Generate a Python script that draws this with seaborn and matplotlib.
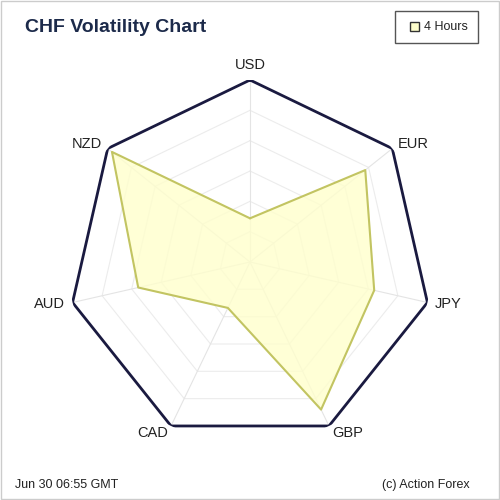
import numpy as np
import matplotlib
matplotlib.use("Agg")
import matplotlib.pyplot as plt
import seaborn as sns
from matplotlib.patches import Rectangle

categories = ["USD", "EUR", "JPY", "GBP", "CAD", "AUD", "NZD"]
values = [0.24, 0.81, 0.70, 0.90, 0.28, 0.63, 0.97]
series_name = "4 Hours"

sns.set_style("white")
plt.rcParams['font.family'] = ['Liberation Sans', 'DejaVu Sans']

n = len(categories)
theta = np.linspace(0, 2 * np.pi, n, endpoint=False)
tc = np.append(theta, theta[0])

fig = plt.figure(figsize=(5, 5), dpi=100)
fig.patch.set_facecolor("white")
ax = fig.add_axes([0.136, 0.112, 0.728, 0.728], projection="polar")
ax.set_theta_zero_location("N")
ax.set_theta_direction(-1)
ax.set_ylim(0, 1)
ax.spines["polar"].set_visible(False)
ax.grid(False)
ax.set_yticks([])
ax.set_xticks([])

for k in range(1, 6):
    r = k / 6
    ax.plot(tc, [r] * (n + 1), color="#ececec", lw=0.8, zorder=1)
for t in theta:
    ax.plot([t, t], [0, 1], color="#e4e4e4", lw=0.8, zorder=1)
ax.plot(tc, [1] * (n + 1), color="#1a1a40", lw=2, zorder=3)

vc = values + values[:1]
ax.fill(tc, vc, color="#ffffcc", alpha=0.8, zorder=2)
ax.plot(tc, vc, color="#c2c462", lw=1.5, zorder=4)

for t, lab in zip(theta, categories):
    s = np.sin(t)
    ha = "center" if abs(s) < 0.3 else ("left" if s > 0 else "right")
    r = 1.08 if abs(s) < 0.3 else 1.04
    ax.text(t, r, lab, ha=ha, va="center", fontsize=10.5, color="#222222")

fig.text(0.05, 0.945, "CHF Volatility Chart", fontsize=14, fontweight="bold", color="#1c2a4a", va="center")
fig.text(0.03, 0.03, "Jun 30 06:55 GMT", fontsize=9, color="#222222", va="center")
fig.text(0.94, 0.03, "(c) Action Forex", fontsize=9, color="#222222", va="center", ha="right")

fig.patches.append(Rectangle((0.79, 0.915), 0.165, 0.062, transform=fig.transFigure,
                             facecolor="white", edgecolor="#555555", lw=1))
fig.patches.append(Rectangle((0.82, 0.938), 0.018, 0.018, transform=fig.transFigure,
                             facecolor="#ffffcc", edgecolor="#333333", lw=1))
fig.text(0.848, 0.946, series_name, fontsize=9, color="#222222", va="center")
fig.patches.append(Rectangle((0.002, 0.002), 0.996, 0.996, transform=fig.transFigure,
                             facecolor="none", edgecolor="#cccccc", lw=1))

fig.savefig("out.png", dpi=100)
